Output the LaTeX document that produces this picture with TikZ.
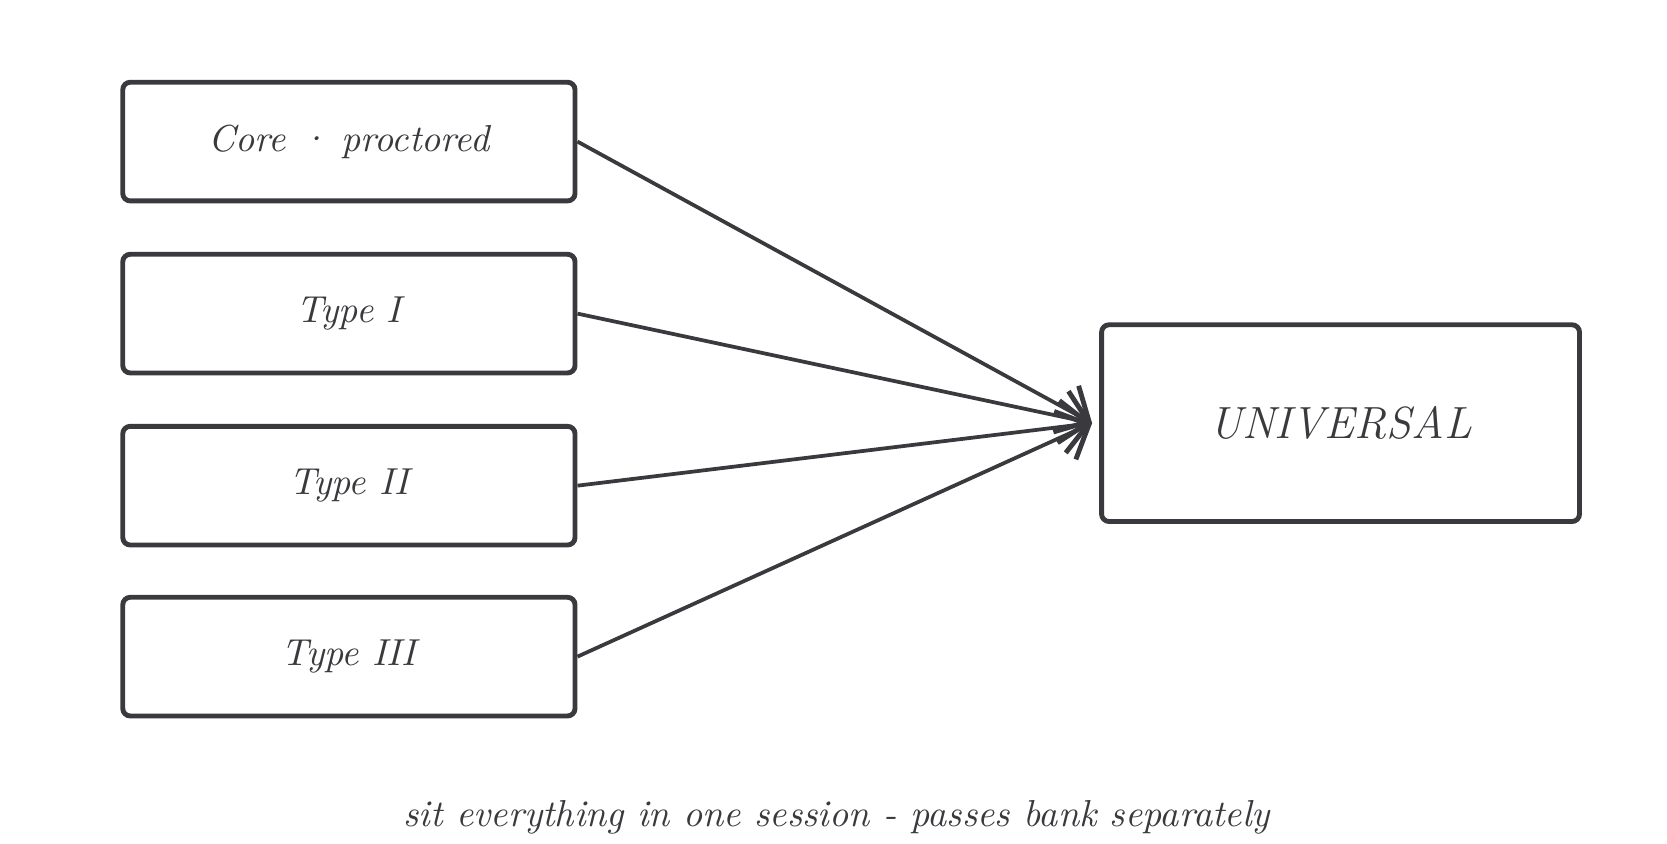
\documentclass[tikz,border=0pt]{standalone}
\usetikzlibrary{arrows.meta}
\definecolor{ink}{HTML}{3A393D}
\begin{document}
\begin{tikzpicture}[x=0.01cm,y=-0.01cm,
  box/.style={draw=ink,line width=1.3pt,rounded corners=2pt,inner sep=0pt,text=ink,font=\itshape},
  conn/.style={draw=ink,line width=1pt,-{Straight Barb[length=7pt,width=14pt,line width=1.3pt]}}]
\useasboundingbox (0,0) rectangle (1560,789);
\node[box,minimum width=4.23cm,minimum height=1.11cm] (c) at (326.5,132.5) {Core \textperiodcentered{} proctored};
\node[box,minimum width=4.23cm,minimum height=1.11cm] (t1) at (326.5,293.5) {Type I};
\node[box,minimum width=4.23cm,minimum height=1.11cm] (t2) at (326.5,454.5) {Type II};
\node[box,minimum width=4.23cm,minimum height=1.11cm] (t3) at (326.5,614.5) {Type III};
\node[box,minimum width=4.47cm,minimum height=1.84cm,font=\large\itshape] (u) at (1254.5,396) {UNIVERSAL};
\coordinate (tip) at (1022,396);
\draw[conn] (c.east) -- (tip);
\draw[conn] (t1.east) -- (tip);
\draw[conn] (t2.east) -- (tip);
\draw[conn] (t3.east) -- (tip);
\node[text=ink,font=\itshape] (note) at (783,765) {sit everything in one session - passes bank separately};
\end{tikzpicture}
\end{document}
